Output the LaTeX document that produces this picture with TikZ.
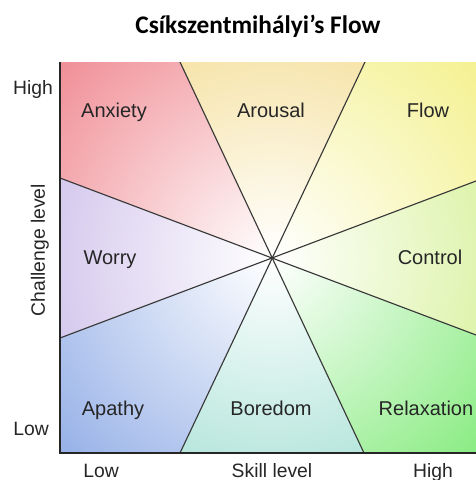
\documentclass[tikz,border=0pt]{standalone}
\usepackage{fontspec}
\setmainfont{Liberation Sans}
\newfontfamily\titlefont{Carlito}
\definecolor{cAnx}{HTML}{EF8890}
\definecolor{cAro}{HTML}{F3D987}
\definecolor{cFlo}{HTML}{F3F088}
\definecolor{cCon}{HTML}{D1EF8B}
\definecolor{cRel}{HTML}{80EA78}
\definecolor{cBor}{HTML}{99DCCE}
\definecolor{cApa}{HTML}{90ACE6}
\definecolor{cWor}{HTML}{C7B6E7}
\definecolor{lineg}{HTML}{383838}
\tikzset{
  region/.style={font=\fontsize{15}{18}\selectfont, text=black!85, anchor=base},
  axislbl/.style={font=\fontsize{14.5}{17}\selectfont, text=black!85, anchor=base},
  divider/.style={draw=lineg, line width=0.85pt},
  axisline/.style={draw=black!85, line width=1.5pt},
}
\newcommand{\wedgeshade}[2]{%
  \begin{scope}
    \clip #1;
    \shade[inner color=white, outer color=#2] (O) circle (230pt);
  \end{scope}}
\begin{document}
\begin{tikzpicture}[x=0.75pt, y=-0.75pt]
\useasboundingbox (0,0) rectangle (476,480);
\fill[white] (0,0) rectangle (476,480);
% key points
\coordinate (O) at (272,258);
\coordinate (TL) at (60,62);
\coordinate (TR) at (484,62);
\coordinate (BL) at (60,453);
\coordinate (BR) at (484,453);
\coordinate (T1) at (180,62);
\coordinate (T2) at (365,62);
\coordinate (B1) at (180,453);
\coordinate (B2) at (364,453);
\coordinate (L1) at (60,178);
\coordinate (L2) at (60,338);
\coordinate (R1) at (484,178);
\coordinate (R2) at (484,338);
\coordinate (AX) at (476,453);
\begin{scope}
\clip (60,62) rectangle (476,453);
\wedgeshade{(O) -- (T1) -- (TL) -- (L1) -- cycle}{cAnx}
\wedgeshade{(O) -- (T1) -- (T2) -- cycle}{cAro}
\wedgeshade{(O) -- (T2) -- (TR) -- (R1) -- cycle}{cFlo}
\wedgeshade{(O) -- (R1) -- (R2) -- cycle}{cCon}
\wedgeshade{(O) -- (R2) -- (BR) -- (B2) -- cycle}{cRel}
\wedgeshade{(O) -- (B2) -- (B1) -- cycle}{cBor}
\wedgeshade{(O) -- (B1) -- (BL) -- (L2) -- cycle}{cApa}
\wedgeshade{(O) -- (L2) -- (L1) -- cycle}{cWor}
\draw[divider] (T1) -- (B2);
\draw[divider] (T2) -- (B1);
\draw[divider] (L1) -- (R2);
\draw[divider] (L2) -- (R1);
\end{scope}
\draw[axisline] (TL) -- (BL) -- (AX);
% title
\node[font=\titlefont\bfseries\fontsize{19}{22}\selectfont] (title) at (258,26) {Csíkszentmihályi’s Flow};
% region labels
\node[region] (anx) at (114,117) {Anxiety};
\node[region] (aro) at (271,117) {Arousal};
\node[region] (flo) at (428,117) {Flow};
\node[region] (wor) at (110,264) {Worry};
\node[region] (con) at (430,264) {Control};
\node[region] (apa) at (113,415) {Apathy};
\node[region] (bor) at (271,415) {Boredom};
\node[region] (rel) at (426,415) {Relaxation};
% axis labels
\node[axislbl] (yhigh) at (33,94) {High};
\node[axislbl] (ylow) at (31,435) {Low};
\node[axislbl, rotate=90] (ylab) at (45,250) {Challenge level};
\node[axislbl] (xlow) at (101,477) {Low};
\node[axislbl] (xlab) at (272,477) {Skill level};
\node[axislbl] (xhigh) at (433,477) {High};
\end{tikzpicture}
\end{document}
